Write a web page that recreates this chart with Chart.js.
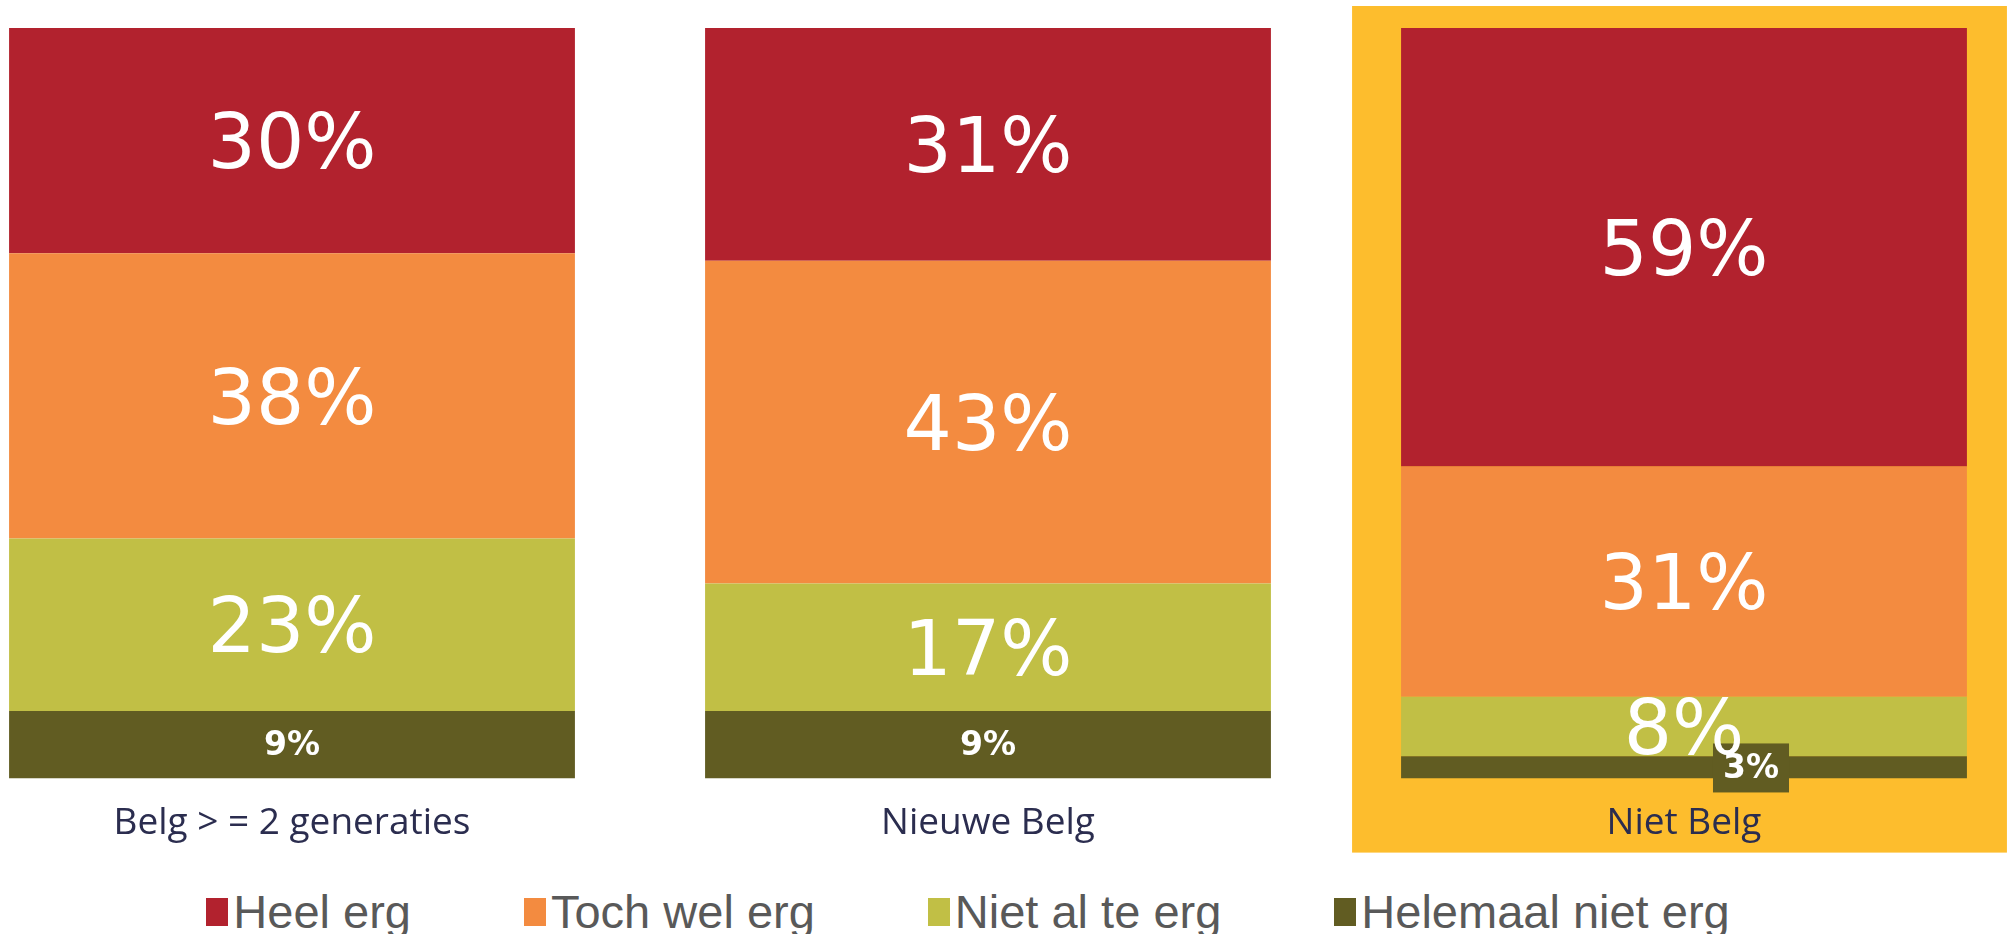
<!DOCTYPE html>
<html>
<head>
<meta charset="utf-8">
<script src="https://cdn.jsdelivr.net/npm/chart.js@4.4.1/dist/chart.umd.min.js"></script>
<style>
  html, body { margin: 0; padding: 0; background: #fff; }
  #page { position: relative; width: 2016px; height: 934px; overflow: hidden; }
  #chartBox { position: absolute; left: -56px; top: 0; width: 2088px; height: 870px; }
  #legend {
    position: absolute; left: 0; top: 884px; width: 1936px;
    display: flex; justify-content: center; gap: 113px;
    font-family: "Liberation Sans", Arial, sans-serif; font-size: 47px; color: #595959;
  }
  #legend .item { display: flex; align-items: center; white-space: nowrap; }
  #legend .box { width: 22px; height: 28px; margin-right: 5px; }
</style>
</head>
<body>
<div id="page">
  <div id="chartBox"><canvas id="chart"></canvas></div>
  <div id="legend"></div>
</div>
<script>
const categories = ["Belg > = 2 generaties", "Nieuwe Belg", "Niet Belg"];
const seriesNames = ["Heel erg", "Toch wel erg", "Niet al te erg", "Helemaal niet erg"];
const heelErg = [30, 31, 59];
const tochWelErg = [38, 43, 31];
const nietAlTeErg = [23, 17, 8];
const helemaalNietErg = [9, 9, 3];
const colors = ["#B2222E", "#F38B40", "#C1BF45", "#615C22"];
const highlighted = 2; // "Niet Belg" gets the yellow frame

const series = [heelErg, tochWelErg, nietAlTeErg, helemaalNietErg];
// rounded values don't always add to 100, so each column is scaled to its own total
const totals = categories.map((c, i) => series.reduce((s, arr) => s + arr[i], 0));

// yellow frame behind the highlighted column (and its axis label)
const frame = {
  id: "frame",
  beforeDraw(chart) {
    const bar = chart.getDatasetMeta(0).data[highlighted];
    const area = chart.chartArea;
    const ctx = chart.ctx;
    ctx.save();
    ctx.fillStyle = "#FDBD2D";
    const left = bar.x - bar.width / 2 - 49;
    const right = bar.x + bar.width / 2 + 40;
    ctx.fillRect(left, area.top - 22, right - left, area.bottom - area.top + 96);
    ctx.restore();
  }
};

// percentages inside the segments
const valueLabels = {
  id: "valueLabels",
  afterDatasetsDraw(chart) {
    const ctx = chart.ctx;
    ctx.save();
    ctx.textAlign = "center";
    ctx.textBaseline = "middle";
    chart.data.datasets.forEach((ds, di) => {
      const meta = chart.getDatasetMeta(di);
      meta.data.forEach((bar, i) => {
        const txt = ds.raw[i] + "%";
        const small = ds.raw === helemaalNietErg;
        const h = Math.abs(bar.base - bar.y);
        ctx.font = small ? 'bold 33px "DejaVu Sans"' : '76px "DejaVu Sans"';
        let x = bar.x;
        let y = (bar.y + bar.base) / 2;
        if (small && h < 40) {
          // too thin: put a tag next to the middle
          x += 67;
          const w = ctx.measureText(txt).width + 20;
          ctx.fillStyle = ds.backgroundColor;
          ctx.fillRect(x - w / 2, y - 24, w, 49);
        }
        ctx.fillStyle = "#fff";
        ctx.fillText(txt, x, y + (small ? 2 : 8));
      });
    });
    ctx.restore();
  }
};

// bottom of the stack first
const stackOrder = [3, 2, 1, 0];

const ctx = document.getElementById("chart").getContext("2d");
const chart = new Chart(ctx, {
  type: "bar",
  data: {
    labels: categories,
    datasets: stackOrder.map((k) => ({
      label: seriesNames[k],
      raw: series[k],
      data: series[k].map((v, i) => (v * 100) / totals[i]),
      backgroundColor: colors[k],
      borderWidth: 0,
      categoryPercentage: 1,
      barPercentage: 0.813,
    })),
  },
  options: {
    responsive: true,
    maintainAspectRatio: false,
    animation: false,
    layout: { padding: { top: 28, bottom: 1, left: 0, right: 0 } },
    plugins: {
      legend: { display: false },
      tooltip: { enabled: false },
    },
    scales: {
      x: {
        stacked: true,
        grid: { display: false, drawTicks: false },
        border: { display: false },
        ticks: {
          padding: 23,
          color: "#2B2D4F",
          font: { family: "'Open Sans'", size: 37 },
        },
      },
      y: {
        stacked: true,
        display: false,
        min: 0,
        max: 100,
      },
    },
  },
  plugins: [frame, valueLabels],
});

// legend under the chart
const legendEl = document.getElementById("legend");
seriesNames.forEach((name, k) => {
  const item = document.createElement("div");
  item.className = "item";
  const box = document.createElement("span");
  box.className = "box";
  box.style.background = colors[k];
  const label = document.createElement("span");
  label.textContent = name;
  item.appendChild(box);
  item.appendChild(label);
  legendEl.appendChild(item);
});
</script>
</body>
</html>
